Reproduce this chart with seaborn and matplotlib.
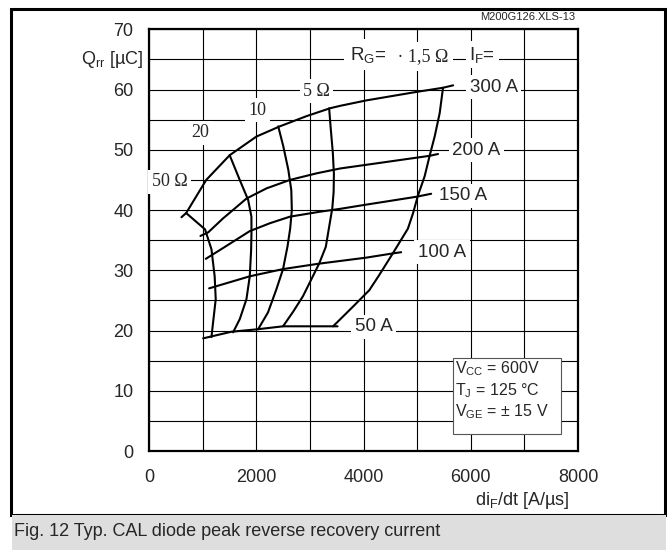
import pandas as pd
import matplotlib.pyplot as plt
import seaborn as sns
from matplotlib.patches import Rectangle
from matplotlib.ticker import MultipleLocator

# Q_rr [uC] vs di_F/dt [A/us], one line per forward current I_F
if_300_x = [600, 688, 1063, 1500, 2000, 2438, 2938, 3375, 3563, 4050, 4980, 5481, 5669]
if_300_y = [38.8, 39.5, 45.0, 49.1, 52.2, 53.9, 55.6, 56.9, 57.3, 58.2, 59.6, 60.3, 60.7]
if_200_x = [955, 1100, 1375, 1813, 2188, 2625, 3125, 3563, 4360, 5231, 5388]
if_200_y = [35.7, 36.3, 38.6, 41.9, 43.6, 45.0, 46.1, 46.9, 47.9, 49.0, 49.3]
if_150_x = [1055, 1378, 1875, 2248, 2625, 3169, 3563, 4050, 4981, 5260]
if_150_y = [31.9, 33.7, 36.5, 37.8, 38.9, 39.7, 40.2, 40.9, 42.2, 42.7]
if_100_x = [1117, 1875, 2496, 3169, 4050, 4544, 4700]
if_100_y = [27.0, 29.0, 30.2, 31.1, 32.1, 32.8, 33.0]
if_50_x = [1005, 1534, 2011, 2496, 3513]
if_50_y = [18.7, 19.8, 20.2, 20.7, 20.7]

# lines of constant gate resistance R_G
rg_50_x = [688, 1040, 1160, 1220, 1240, 1190, 1160]
rg_50_y = [39.5, 36.8, 33.5, 29.0, 25.2, 21.3, 18.9]
rg_20_x = [1500, 1688, 1844, 1906, 1907, 1900, 1875, 1813, 1689, 1564]
rg_20_y = [49.1, 45.0, 41.7, 38.9, 36.2, 33.3, 29.0, 25.2, 21.9, 19.7]
rg_10_x = [2406, 2500, 2594, 2650, 2660, 2630, 2580, 2496, 2370, 2215, 2030]
rg_10_y = [53.9, 50.6, 46.7, 43.3, 40.0, 37.0, 34.0, 30.2, 26.8, 23.0, 20.2]
rg_5_x = [3356, 3388, 3425, 3445, 3440, 3415, 3356, 3294, 3169, 2868, 2690, 2496]
rg_5_y = [56.9, 53.3, 49.5, 46.0, 43.0, 40.3, 37.2, 33.9, 31.1, 25.7, 23.2, 20.7]
rg_1_5_x = [5481, 5419, 5325, 5231, 5138, 5013, 4919, 4825, 4544, 4290, 4106, 3794, 3430]
rg_1_5_y = [60.3, 56.1, 52.2, 49.0, 45.6, 42.4, 39.4, 36.9, 32.8, 29.2, 26.7, 23.9, 20.7]

if_labels = ["300 A", "200 A", "150 A", "100 A", "50 A"]
rg_labels = ["5 \u03a9", "10", "20", "50 \u03a9"]

curves = {
    "IF300": (if_300_x, if_300_y), "IF200": (if_200_x, if_200_y),
    "IF150": (if_150_x, if_150_y), "IF100": (if_100_x, if_100_y),
    "IF50": (if_50_x, if_50_y),
    "RG50": (rg_50_x, rg_50_y), "RG20": (rg_20_x, rg_20_y),
    "RG10": (rg_10_x, rg_10_y), "RG5": (rg_5_x, rg_5_y),
    "RG1.5": (rg_1_5_x, rg_1_5_y),
}
frames = []
for name, (xs, ys) in curves.items():
    frames.append(pd.DataFrame({"x": xs, "y": ys, "curve": name}))
df = pd.concat(frames, ignore_index=True)

sns.set_theme(style="white")
plt.rcParams["font.family"] = ["Liberation Sans", "DejaVu Sans"]
plt.rcParams["mathtext.fontset"] = "custom"
plt.rcParams["mathtext.rm"] = "Liberation Sans"
plt.rcParams["mathtext.it"] = "Liberation Sans:italic"

fig = plt.figure(figsize=(6.67, 5.5), dpi=100)
ax = fig.add_axes([0.2238, 0.18, 0.6428, 0.7667])

sns.lineplot(data=df, x="x", y="y", units="curve", estimator=None, sort=False,
             color="black", lw=1.5, ax=ax, zorder=4)

ax.set_xlim(0, 8000)
ax.set_ylim(0, 70)
ax.xaxis.set_major_locator(MultipleLocator(2000))
ax.xaxis.set_minor_locator(MultipleLocator(1000))
ax.yaxis.set_major_locator(MultipleLocator(10))
ax.yaxis.set_minor_locator(MultipleLocator(5))
ax.grid(which="both", color="black", lw=0.8)
ax.set_axisbelow(True)
ax.tick_params(which="both", length=0, labelsize=13)
ax.tick_params(axis="x", pad=13)
ax.tick_params(axis="y", pad=11.5)
ax.set_xlabel("")
ax.set_ylabel("")
for sp in ax.spines.values():
    sp.set_color("black")
    sp.set_linewidth(1.6)

white = dict(facecolor="white", edgecolor="none", pad=2.5)
serif = ["Liberation Serif", "DejaVu Serif"]

# I_F labels at the line ends
for txt, (lx, ly) in zip(if_labels, [(5980, 60.4), (5655, 49.9), (5414, 42.4),
                                     (5011, 33.0), (3830, 20.6)]):
    ax.text(lx, ly, txt, fontsize=13.5, ha="left", va="center", bbox=white, zorder=3)

# R_G labels
for txt, (lx, ly) in zip(rg_labels, [(2868, 59.7), (1844, 56.6), (789, 52.8), (45, 44.7)]):
    ax.text(lx, ly, txt, fontsize=13, family=serif, ha="left", va="center",
            bbox=white, zorder=3)

ax.text(3740, 65.8, "R$_{\\rm G}$=", fontsize=13.5, ha="left", va="center",
        bbox=dict(facecolor="white", edgecolor="none", pad=4), zorder=3)
ax.text(4540, 65.5, " \u00b7 1,5 \u03a9", fontsize=13, family=serif, ha="left", va="center",
        bbox=dict(facecolor="white", edgecolor="none", pad=4), zorder=3)
ax.text(5970, 65.8, "I$_{\\rm F}$=", fontsize=13.5, ha="left", va="center", bbox=white, zorder=3)

# test conditions box
ax.add_patch(Rectangle((5662, 2.8), 2018, 12.6, facecolor="white", edgecolor="#555555",
                       lw=0.8, zorder=3))
cond = ["V$_{\\rm CC}$ = 600V", "T$_{\\rm J}$ = 125 \u00b0C", "V$_{\\rm GE}$ = \u00b1 15 V"]
for txt, ly in zip(cond, [13.7, 10.0, 6.5]):
    ax.text(5700, ly, txt, fontsize=11.5, ha="left", va="center", zorder=4)

# axis titles placed like the datasheet
ax.text(-117, 65, "Q$_{\\rm rr}$ [\u00b5C]", fontsize=13, ha="right", va="center", clip_on=False)
ax.text(7834, -8.2, "di$_{\\rm F}$/dt [A/\u00b5s]", fontsize=13, ha="right", va="center",
        clip_on=False)
fig.text(575 / 667, 1 - 16.5 / 550, "M200G126.XLS-13", fontsize=8, ha="right", va="center",
         zorder=5)

# frame and caption band
fig.patches.append(Rectangle((11 / 667, 1 - 515 / 550), (664.5 - 11) / 667, (515 - 8.5) / 550,
                             transform=fig.transFigure, fill=False, edgecolor="black",
                             lw=2.2, zorder=0))
fig.patches.append(Rectangle((12 / 667, 0), (666 - 12) / 667, 35 / 550,
                             transform=fig.transFigure, facecolor="#dedede",
                             edgecolor="none", zorder=1))
fig.text(14 / 667, 1 - 532 / 550, "Fig. 12 Typ. CAL diode peak reverse recovery current",
         fontsize=13, ha="left", va="center")

fig.savefig("out.png", dpi=100)
